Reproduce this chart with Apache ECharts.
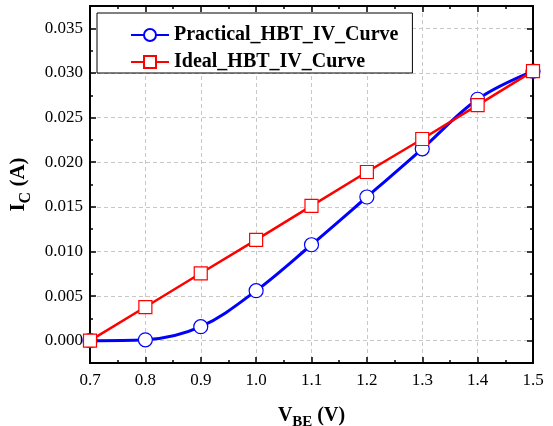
<!DOCTYPE html>
<html><head><meta charset="utf-8">
<script src="https://cdn.jsdelivr.net/npm/echarts@6/dist/echarts.min.js"></script>
<style>html,body{margin:0;padding:0;background:#fff}#c{width:553px;height:426px}</style>
</head><body><div id="c"></div>
<script>
const vbe = [0.7, 0.8, 0.9, 1.0, 1.1, 1.2, 1.3, 1.4, 1.5];
const practical = [0.0000, 0.0001, 0.00157, 0.0056, 0.01075, 0.0161, 0.0215, 0.02705, 0.0302];
const ideal = [0.0000, 0.00377, 0.00755, 0.0113, 0.0151, 0.0189, 0.0226, 0.0264, 0.0302];
const yMajor = [0, 0.005, 0.01, 0.015, 0.02, 0.025, 0.03, 0.035];
const yMinor = [-0.0025, 0.0025, 0.0075, 0.0125, 0.0175, 0.0225, 0.0275, 0.0325, 0.0375];
const seriesNames = ['Practical_HBT_IV_Curve', 'Ideal_HBT_IV_Curve'];

const FONT = '"Liberation Serif", "Times New Roman", serif';
const chart = echarts.init(document.getElementById('c'));
const gridLine = {show: true, lineStyle: {color: '#c8c8c8', type: [4, 3], width: 1}};
function yAx(pos, major, labels) {
  return {
    type: 'value', position: pos, gridIndex: 0,
    min: -0.0025, max: 0.0375, interval: 0.0025,
    axisLine: {show: true, onZero: false, lineStyle: {color: '#000', width: 2}},
    axisTick: {show: true, inside: true, length: major ? 6 : 3, customValues: major ? yMajor : yMinor, lineStyle: {color: '#000', width: 1.5}},
    axisLabel: {show: labels, customValues: yMajor, margin: 7, fontFamily: FONT, fontSize: 17, color: '#000',
      formatter: v => v.toFixed(3)},
    splitLine: (major && labels) ? gridLine : {show: false},
    name: labels ? '{a|I}{sub|C}{a| (A)}' : '',
    nameLocation: 'middle', nameRotate: 90, nameGap: 48,
    nameTextStyle: {rich: {
      a: {fontFamily: FONT, fontWeight: 'bold', fontSize: 21, color: '#000', lineHeight: 24},
      sub: {fontFamily: FONT, fontWeight: 'bold', fontSize: 16, color: '#000', lineHeight: 24, verticalAlign: 'bottom', padding: [0, 0, -3, 0]}
    }}
  };
}
function xAx(pos, labels) {
  return {
    type: 'value', position: pos, min: 0.7, max: 1.5, interval: 0.1,
    axisLine: {show: true, onZero: false, lineStyle: {color: '#000', width: 2}},
    axisTick: {show: true, inside: true, length: 6, lineStyle: {color: '#000', width: 1.5}},
    minorTick: {show: true, splitNumber: 2, length: 3, lineStyle: {color: '#000', width: 1.5}},
    axisLabel: {show: labels, margin: 9, fontFamily: FONT, fontSize: 17, color: '#000', formatter: v => v.toFixed(1)},
    splitLine: labels ? gridLine : {show: false},
    name: labels ? '{a|V}{sub|BE}{a| (V)}' : '',
    nameLocation: 'middle', nameGap: 42,
    nameTextStyle: {rich: {
      a: {fontFamily: FONT, fontWeight: 'bold', fontSize: 20, color: '#000', lineHeight: 22},
      sub: {fontFamily: FONT, fontWeight: 'bold', fontSize: 15, color: '#000', lineHeight: 22, verticalAlign: 'bottom', padding: [0, 0, -3, 0]}
    }}
  };
}
chart.setOption({
  animation: false,
  backgroundColor: '#fff',
  grid: {left: 90, right: 20, top: 6, bottom: 63, containLabel: false, outerBoundsMode: 'none'},
  xAxis: [xAx('bottom', true), xAx('top', false)],
  yAxis: [yAx('left', true, true), yAx('right', true, false), yAx('left', false, false), yAx('right', false, false)],
  legend: {
    orient: 'vertical', left: 97, top: 13,
    padding: [12, 14, 1, 33], itemGap: 7, itemWidth: 38, itemHeight: 15,
    backgroundColor: '#fff', borderColor: '#000', borderWidth: 1,
    textStyle: {fontFamily: FONT, fontWeight: 'bold', fontSize: 20, color: '#000', lineHeight: 20},
    data: seriesNames
  },
  series: [
    {name: seriesNames[0], type: 'line', smooth: 0.35, xAxisIndex: 0, yAxisIndex: 0,
     data: vbe.map((x, i) => [x, practical[i]]),
     symbol: 'circle', symbolSize: 14,
     lineStyle: {color: '#0000ff', width: 3},
     itemStyle: {color: '#fff', borderColor: '#0000ff', borderWidth: 1.2}, z: 2},
    {name: seriesNames[1], type: 'line', xAxisIndex: 0, yAxisIndex: 0,
     data: vbe.map((x, i) => [x, ideal[i]]),
     symbol: 'rect', symbolSize: 13,
     lineStyle: {color: '#ff0000', width: 2.5},
     itemStyle: {color: '#fff', borderColor: '#ff0000', borderWidth: 1.2}, z: 3}
  ]
});
</script></body></html>
